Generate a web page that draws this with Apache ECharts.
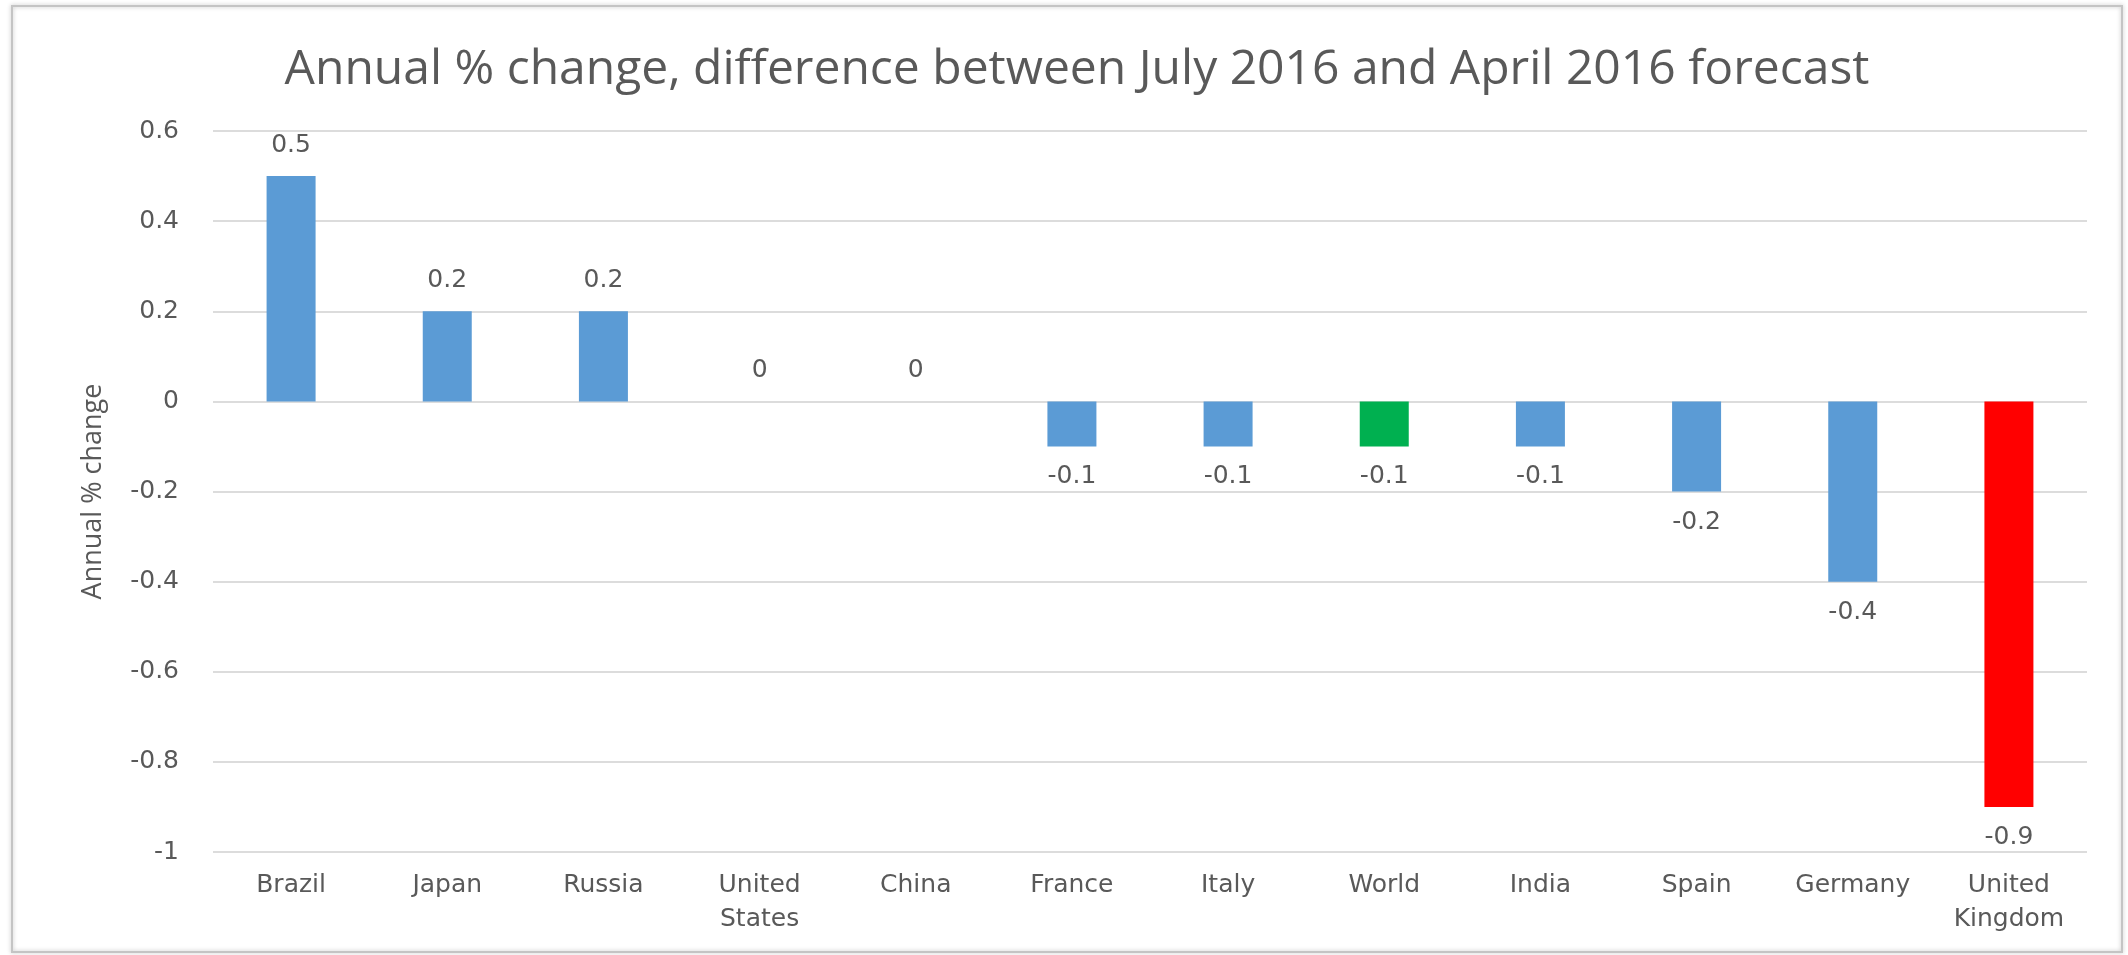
<!DOCTYPE html>
<html>
<head>
<meta charset="utf-8">
<script src="https://cdn.jsdelivr.net/npm/echarts@6/dist/echarts.min.js"></script>
<style>
html,body{margin:0;padding:0;background:#fff;}
#c{width:2128px;height:955px;}
</style>
</head>
<body>
<div id="c"></div>
<script>
const titleText = 'Annual % change, difference between July 2016 and April 2016 forecast';
const yAxisName = 'Annual % change';
const categories = ['Brazil','Japan','Russia','United\nStates','China','France','Italy','World','India','Spain','Germany','United\nKingdom'];
const values = [0.5, 0.2, 0.2, 0, 0, -0.1, -0.1, -0.1, -0.1, -0.2, -0.4, -0.9];
const barColors = ['#5B9BD5','#5B9BD5','#5B9BD5','#5B9BD5','#5B9BD5','#5B9BD5','#5B9BD5','#00B050','#5B9BD5','#5B9BD5','#5B9BD5','#FF0000'];
const yMin = -1, yMax = 0.6, yStep = 0.2;

const chart = echarts.init(document.getElementById('c'));
const txt = '#595959';
chart.setOption({
  backgroundColor: '#fff',
  animation: false,
  graphic: [{
    type: 'rect',
    shape: {x: 12, y: 6, width: 2110, height: 946},
    style: {fill: 'none', stroke: '#c4c4c4', lineWidth: 2, shadowBlur: 4, shadowColor: 'rgba(0,0,0,0.25)'},
    silent: true, z: -1
  }],
  title: {
    text: titleText,
    left: 1072, top: 41, textAlign: 'center',
    textStyle: {fontFamily: 'Open Sans', fontWeight: 'normal', fontSize: 48, color: txt}
  },
  grid: {left: 213, right: 41, top: 131, bottom: 103, containLabel: false},
  xAxis: {
    type: 'category',
    data: categories,
    axisLine: {show: false, onZero: false},
    axisTick: {show: false},
    axisLabel: {fontFamily: 'DejaVu Sans', fontSize: 25, color: txt, margin: 16, lineHeight: 34, interval: 0}
  },
  yAxis: {
    type: 'value',
    min: yMin, max: yMax, interval: yStep,
    name: yAxisName,
    nameLocation: 'middle',
    nameGap: 106,
    nameRotate: 90,
    nameTextStyle: {fontFamily: 'Open Sans', fontSize: 27, color: txt},
    axisLine: {show: false},
    axisTick: {show: false},
    axisLabel: {fontFamily: 'DejaVu Sans', fontSize: 25, color: txt, margin: 34,
      formatter: v => String(Math.round(v * 10) / 10)},
    splitLine: {lineStyle: {color: '#dcdcdc', width: 2}}
  },
  series: [{
    type: 'bar',
    barWidth: 49,
    data: values.map((v, i) => ({
      value: v,
      itemStyle: {color: barColors[i]},
      label: {position: v >= 0 ? 'top' : 'bottom'}
    })),
    label: {
      show: true,
      distance: 18,
      fontFamily: 'DejaVu Sans', fontSize: 25, color: txt,
      formatter: p => String(p.value)
    }
  }]
});
</script>
</body>
</html>
